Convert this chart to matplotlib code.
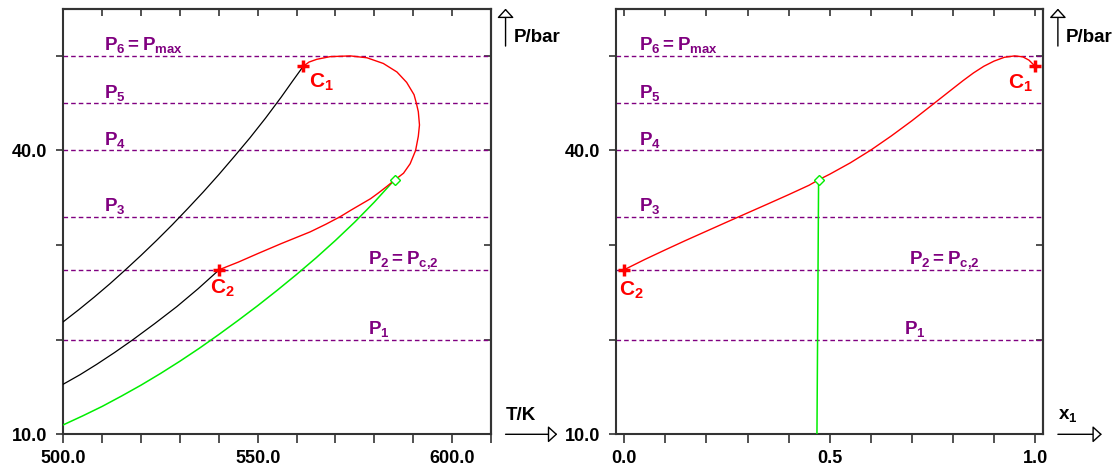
import numpy as np
import matplotlib
matplotlib.use("Agg")
import matplotlib.pyplot as plt

plt.rcParams["font.family"] = ["Liberation Sans", "DejaVu Sans"]
plt.rcParams["font.weight"] = "bold"
plt.rcParams["mathtext.fontset"] = "custom"
plt.rcParams["mathtext.rm"] = "Liberation Sans:bold"
plt.rcParams["mathtext.it"] = "Liberation Sans:bold"
plt.rcParams["mathtext.bf"] = "Liberation Sans:bold"

# --------------------------------------------------------------------
# Data
# --------------------------------------------------------------------
# isobars (bar) and their labels
p_levels = [20.0, 27.4, 33.0, 40.0, 45.0, 50.0]
p_labels = [r"$\mathbf{P_1}$", r"$\mathbf{P_2 = P_{c{,}2}}$", r"$\mathbf{P_3}$",
            r"$\mathbf{P_4}$", r"$\mathbf{P_5}$", r"$\mathbf{P_6 = P_{max}}$"]

# P-T projection: pure-component vapour pressure curves
black_upper_T = [500, 504, 508, 512, 516, 520, 524, 528, 532, 536,
                 540, 544, 548, 552, 556, 559, 561.7]
black_upper_P = [21.9, 23.18, 24.52, 25.92, 27.4, 28.92, 30.5, 32.14, 33.86, 35.62,
                 37.46, 39.38, 41.34, 43.42, 45.62, 47.36, 48.9]
black_lower_T = [500.0, 504.3, 508.6, 513.2, 517.9, 523.5, 529.2, 534.7, 540.1]
black_lower_P = [15.3, 16.3, 17.4, 18.65, 20.0, 21.7, 23.5, 25.4, 27.4]

# three-phase line
green_T = [500, 505, 510, 515, 520, 525, 530, 535, 540, 545,
           550, 555, 560, 565, 570, 575, 580, 585.2]
green_P = [11.0, 11.95, 12.95, 14.05, 15.2, 16.43, 17.73, 19.1, 20.55, 22.05,
           23.6, 25.22, 26.9, 28.65, 30.5, 32.45, 34.55, 36.9]

# critical line (P-T)
red_T = [540.1, 545.0, 550.0, 556.0, 563.5, 567.5, 571.2, 574.0, 576.5, 579.0,
         581.0, 583.2, 585.3, 587.5, 589.2, 590.6, 591.3, 591.6, 591.3, 590.8,
         590.2, 588.3, 585.8, 582.3, 578.1, 573.8, 568.6, 565.2, 563.2, 561.7]
red_P = [27.4, 28.2, 29.1, 30.15, 31.4, 32.2, 33.0, 33.7, 34.3, 34.9,
         35.5, 36.2, 36.9, 37.6, 38.6, 40.0, 41.5, 42.7, 44.1, 45.0,
         45.9, 47.2, 48.3, 49.2, 49.8, 50.0, 49.92, 49.64, 49.35, 48.9]

# critical line (P-x1)
red_x = [0.0, 0.05, 0.10, 0.15, 0.20, 0.25, 0.30, 0.35, 0.40, 0.45, 0.473,
         0.50, 0.55, 0.60, 0.65, 0.70, 0.75, 0.80, 0.825, 0.85, 0.875, 0.90,
         0.925, 0.95, 0.97, 0.985, 1.0]
red_xP = [27.4, 28.48, 29.5, 30.5, 31.47, 32.44, 33.4, 34.36, 35.33, 36.33, 36.9,
          37.49, 38.69, 40.04, 41.54, 43.14, 44.84, 46.55, 47.4, 48.2, 48.9, 49.45,
          49.85, 50.0, 49.9, 49.55, 48.9]
green_x = [0.473, 0.471, 0.469]
green_xP = [36.9, 23.0, 10.0]

# critical end points and the point where the 3-phase line meets the critical line
c1_T, c1_x, c1_P = 561.7, 1.0, 48.9
c2_T, c2_x, c2_P = 540.1, 0.0, 27.4
uce_T, uce_x, uce_P = 585.2, 0.473, 36.9

# ticks
T_ticks = [500, 510, 520, 530, 540, 550, 560, 570, 580, 590, 600, 610]
T_tick_labels = ["500.0", "", "", "", "", "550.0", "", "", "", "", "600.0", ""]
x_ticks = [0.0, 0.1, 0.2, 0.3, 0.4, 0.5, 0.6, 0.7, 0.8, 0.9, 1.0]
x_tick_labels = ["0.0", "", "", "", "", "0.5", "", "", "", "", "1.0"]
P_ticks = [10, 20, 30, 40, 50]
P_tick_labels = ["10.0", "", "", "40.0", ""]

PURPLE = "#800080"
RED = "#ff0000"
GREEN = "#00ee00"
SPINE = "#333333"


def _style_axes(ax, xticks, xlabels):
    for s in ax.spines.values():
        s.set_color(SPINE)
        s.set_linewidth(1.5)
    ax.set_xticks(xticks)
    ax.set_xticklabels(xlabels)
    ax.set_yticks(P_ticks)
    ax.set_yticklabels(P_tick_labels)
    ax.tick_params(axis="x", direction="out", length=6.5, width=1.2,
                   labelsize=13, pad=5, color=SPINE)
    ax.tick_params(axis="y", direction="out", length=5, width=1.2,
                   labelsize=13, pad=6.5, color=SPINE)
    # inward ticks on top and right
    top = ax.secondary_xaxis("top")
    top.set_xticks(xticks)
    top.tick_params(direction="in", length=5, width=1.2, labeltop=False, color=SPINE)
    top.spines["top"].set_color(SPINE)
    top.spines["top"].set_linewidth(1.5)
    right = ax.secondary_yaxis("right")
    right.set_yticks(P_ticks)
    right.tick_params(direction="in", length=5, width=1.2, labelright=False, color=SPINE)
    right.spines["right"].set_color(SPINE)
    right.spines["right"].set_linewidth(1.5)


def _isobars(ax, label_x):
    for p, lab, lx in zip(p_levels, p_labels, label_x):
        ax.axhline(p, color=PURPLE, lw=1.0, dashes=(3.3, 2.2), zorder=1)
        ax.annotate(lab, xy=(lx, p), xytext=(0, 4), textcoords="offset points",
                    ha="left", va="baseline", color=PURPLE, fontsize=13.5)


def _axis_arrows(ax, xname, x_end):
    arrow = dict(arrowstyle="-|>,head_length=0.35,head_width=0.32", fc="white",
                 ec="black", lw=1, shrinkA=0, shrinkB=0, mutation_scale=16)
    ax.annotate("", xy=(1.034, 1.0), xytext=(1.034, 0.912), xycoords="axes fraction",
                arrowprops=arrow, annotation_clip=False)
    ax.text(1.052, 0.932, "P/bar", transform=ax.transAxes, ha="left", va="center",
            fontsize=13.5)
    ax.annotate("", xy=(x_end, 0.0), xytext=(1.034, 0.0), xycoords="axes fraction",
                arrowprops=arrow, annotation_clip=False)
    ax.text(1.034, 0.045, xname, transform=ax.transAxes, ha="left", va="center",
            fontsize=13.5)


fig = plt.figure(figsize=(11.19, 4.75), dpi=100)

# ---- left: P-T projection ----
ax1 = fig.add_axes([0.0566, 0.0857, 0.3822, 0.8962])
ax1.set_xlim(500, 610)
ax1.set_ylim(10, 55)
_style_axes(ax1, T_ticks, T_tick_labels)
_isobars(ax1, [578.4, 578.4, 510.4, 510.4, 510.4, 510.4])

ax1.plot(black_upper_T, black_upper_P, color="black", lw=0.9, zorder=3)
ax1.plot(black_lower_T, black_lower_P, color="black", lw=0.9, zorder=3)
ax1.plot(green_T, green_P, color=GREEN, lw=1.1, zorder=3)
ax1.plot(red_T, red_P, color=RED, lw=1.0, zorder=4)
ax1.plot([uce_T], [uce_P], marker="D", ms=5.5, mfc="white", mec=GREEN, mew=1.0, zorder=5)
ax1.plot([c1_T, c2_T], [c1_P, c2_P], ls="none", marker="+", ms=8, mew=2.5,
         color=RED, zorder=6)
ax1.annotate(r"$\mathbf{C_1}$", xy=(c1_T, c1_P), xytext=(4.3, -3.6),
             textcoords="offset points", ha="left", va="top", color=RED, fontsize=15)
ax1.annotate(r"$\mathbf{C_2}$", xy=(c2_T, c2_P), xytext=(-6.5, -6),
             textcoords="offset points", ha="left", va="top", color=RED, fontsize=15)
_axis_arrows(ax1, "T/K", 1.155)

# ---- right: P-x1 projection ----
ax2 = fig.add_axes([0.5505, 0.0857, 0.3819, 0.8962])
ax2.set_xlim(-0.02, 1.02)
ax2.set_ylim(10, 55)
_style_axes(ax2, x_ticks, x_tick_labels)
_isobars(ax2, [0.680, 0.693, 0.037, 0.037, 0.037, 0.037])

ax2.plot(green_x, green_xP, color=GREEN, lw=1.1, zorder=3)
ax2.plot(red_x, red_xP, color=RED, lw=1.0, zorder=4)
ax2.plot([uce_x], [uce_P], marker="D", ms=5.5, mfc="white", mec=GREEN, mew=1.0, zorder=5)
ax2.plot([c1_x, c2_x], [c1_P, c2_P], ls="none", marker="+", ms=8, mew=2.5,
         color=RED, zorder=6, clip_on=False)
ax2.annotate(r"$\mathbf{C_1}$", xy=(c1_x, c1_P), xytext=(-1.4, -4.3),
             textcoords="offset points", ha="right", va="top", color=RED, fontsize=15)
ax2.annotate(r"$\mathbf{C_2}$", xy=(c2_x, c2_P), xytext=(-3.9, -7.2),
             textcoords="offset points", ha="left", va="top", color=RED, fontsize=15)
_axis_arrows(ax2, r"$\mathbf{x_1}$", 1.137)

fig.savefig("out.png", dpi=100)
